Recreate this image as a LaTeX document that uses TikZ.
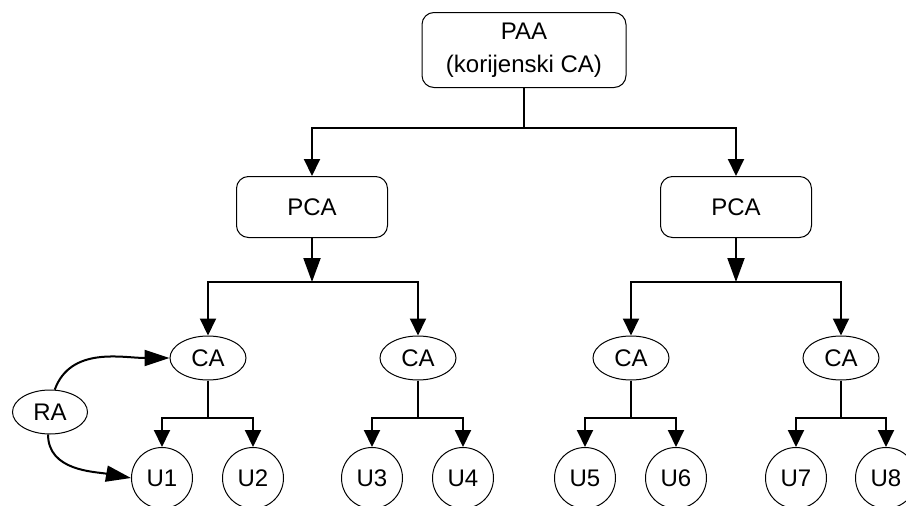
\documentclass[tikz,border=0pt]{standalone}
\usepackage{fontspec}
\setmainfont{Liberation Sans}
\usetikzlibrary{shapes.geometric,arrows.meta}
\begin{document}
\begin{tikzpicture}[x=1pt,y=-1pt,
  every node/.style={font=\fontsize{24}{33}\selectfont, inner sep=0pt},
  rbox/.style={draw, line width=1pt, rounded corners=12pt, align=center},
  oval/.style={draw, line width=1pt, ellipse, minimum width=76pt, minimum height=44pt},
  leaf/.style={draw, line width=1pt, circle, minimum size=61pt},
  link/.style={line width=2pt},
  arr/.style={link, -{Triangle[length=17pt,width=16pt]}},
  bigarr/.style={link, -{Triangle[length=24pt,width=17pt]}},
  curvearr/.style={link, -{Triangle[length=25pt,width=16pt]}}]
  \useasboundingbox (0,0) rectangle (906,506);
  \clip (0,0) rectangle (906,506);

  % root authority
  \node[rbox, minimum width=204pt, minimum height=75pt] (paa) at (524,50) {PAA\\(korijenski CA)};

  % policy CAs
  \node[rbox, minimum width=151pt, minimum height=61pt] (pcaL) at (312,207) {PCA};
  \node[rbox, minimum width=151pt, minimum height=61pt] (pcaR) at (736,207) {PCA};

  % certification authorities
  \node[oval] (ca1) at (208,358) {CA};
  \node[oval] (ca2) at (418,358) {CA};
  \node[oval] (ca3) at (631,358) {CA};
  \node[oval] (ca4) at (841,358) {CA};

  % registration authority
  \node[oval, minimum width=75pt] (ra) at (50,412) {RA};

  % users
  \node[leaf] (u1) at (162,478) {U1};
  \node[leaf] (u2) at (253,478) {U2};
  \node[leaf] (u3) at (372,478) {U3};
  \node[leaf] (u4) at (463,478) {U4};
  \node[leaf] (u5) at (585,478) {U5};
  \node[leaf] (u6) at (676,478) {U6};
  \node[leaf] (u7) at (796,478) {U7};
  \node[leaf] (u8) at (886,478) {U8};

  % junction points of the tree
  \coordinate (j0) at (524,128);
  \coordinate (jL) at (312,282);
  \coordinate (jR) at (736,282);
  \coordinate (k1) at (208,418);
  \coordinate (k2) at (418,418);
  \coordinate (k3) at (631,418);
  \coordinate (k4) at (841,418);

  % root to policy CAs
  \draw[link] (paa.south) -- (j0);
  \draw[arr] (j0) -| (pcaL.north);
  \draw[arr] (j0) -| (pcaR.north);

  % policy CAs to CAs
  \draw[bigarr] (pcaL.south) -- (jL);
  \draw[bigarr] (pcaR.south) -- (jR);
  \draw[arr] (jL) -| (ca1.north);
  \draw[arr] (jL) -| (ca2.north);
  \draw[arr] (jR) -| (ca3.north);
  \draw[arr] (jR) -| (ca4.north);

  % CAs to users
  \foreach \k/\c/\a/\b in {k1/ca1/u1/u2, k2/ca2/u3/u4, k3/ca3/u5/u6, k4/ca4/u7/u8}{
    \draw[link] (\c.south) -- (\k);
    \draw[arr] (\k) -| (\a.north);
    \draw[arr] (\k) -| (\b.north);
  }

  % registration authority links
  \draw[curvearr] (ra.78) to[out=70,in=180] (ca1.west);
  \draw[curvearr] (ra.265) to[out=-90,in=170] (u1.west);
\end{tikzpicture}
\end{document}
